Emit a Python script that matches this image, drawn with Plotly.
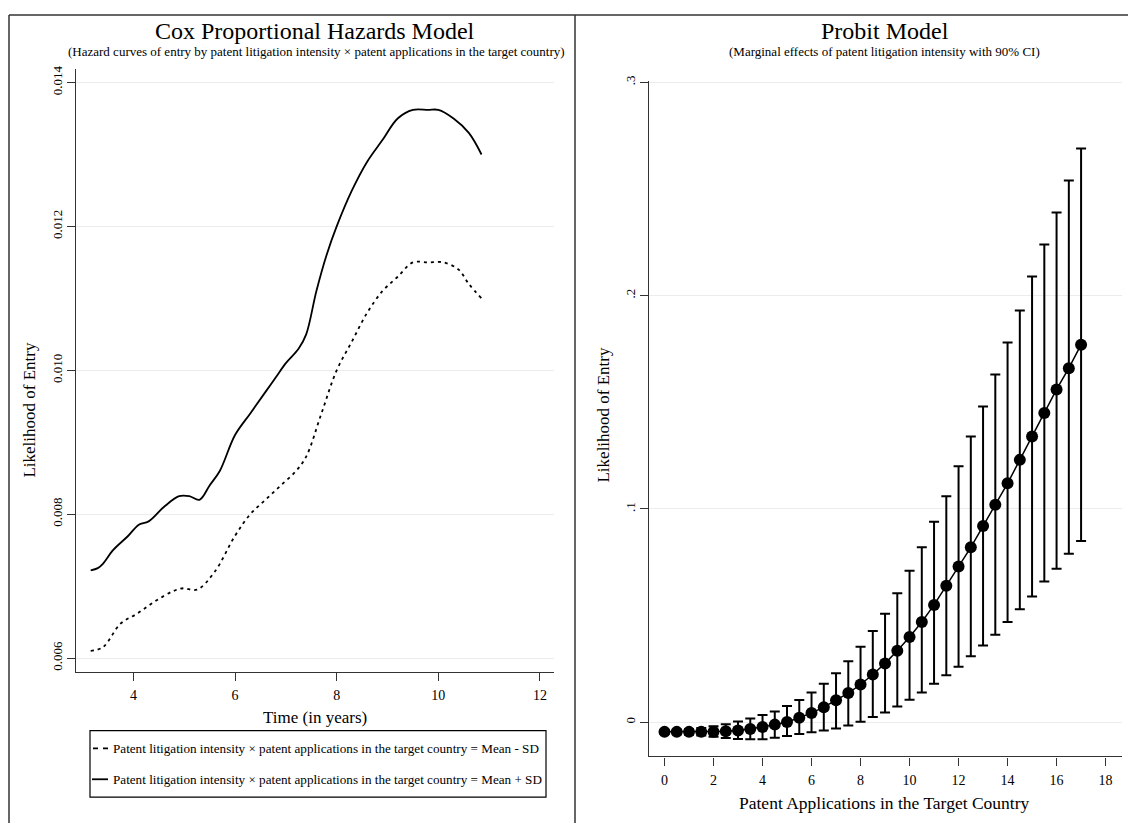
import plotly.graph_objects as go

# ---------------- data ----------------
# Left panel: Cox hazard curves
t_plus = [3.16, 3.3, 3.4, 3.6, 3.9, 4.1, 4.3, 4.6, 4.9, 5.1, 5.3, 5.5, 5.7, 6.0, 6.3, 6.6, 6.8,
          7.0, 7.25, 7.4, 7.6, 7.8, 8.0, 8.3, 8.6, 8.9, 9.2, 9.5, 9.8, 10.0, 10.3, 10.6, 10.85]
h_plus = [0.00722, 0.00725, 0.00731, 0.0075, 0.0077, 0.00785, 0.0079, 0.0081, 0.00825, 0.00825,
          0.0082, 0.0084, 0.0086, 0.0091, 0.0094, 0.0097, 0.0099, 0.0101, 0.0103, 0.0105, 0.0111,
          0.0116, 0.0120, 0.0125, 0.0129, 0.0132, 0.0135, 0.01362, 0.01362, 0.01362, 0.0135,
          0.0133, 0.0130]
t_minus = [3.16, 3.4, 3.75, 4.08, 4.43, 4.78, 4.98, 5.25, 5.6, 6.0, 6.3, 6.6, 6.9, 7.2, 7.4, 7.7,
           8.0, 8.3, 8.6, 8.9, 9.2, 9.5, 9.8, 10.1, 10.4, 10.6, 10.85]
h_minus = [0.0061, 0.00615, 0.00648, 0.00662, 0.00679, 0.00693, 0.00697, 0.00695, 0.0072, 0.0077,
           0.0080, 0.0082, 0.0084, 0.0086, 0.0088, 0.0094, 0.0100, 0.0104, 0.0108, 0.0111, 0.0113,
           0.0115, 0.0115, 0.0115, 0.0114, 0.0112, 0.0110]
legend_names = [
    "Patent litigation intensity \u00d7 patent applications in the target country = Mean - SD",
    "Patent litigation intensity \u00d7 patent applications in the target country = Mean + SD",
]

# Right panel: Probit marginal effects with 90% CI
apps = [0, 0.5, 1, 1.5, 2, 2.5, 3, 3.5, 4, 4.5, 5, 5.5, 6, 6.5, 7, 7.5, 8, 8.5, 9, 9.5, 10,
        10.5, 11, 11.5, 12, 12.5, 13, 13.5, 14, 14.5, 15, 15.5, 16, 16.5, 17]
me = [-0.0045, -0.0045, -0.0045, -0.0045, -0.0044, -0.0042, -0.0038, -0.0031, -0.0022, -0.0011,
      0.0001, 0.0021, 0.0044, 0.0071, 0.0103, 0.0137, 0.0177, 0.0224, 0.0276, 0.0335, 0.040,
      0.047, 0.055, 0.064, 0.073, 0.082, 0.092, 0.102, 0.112, 0.123, 0.134, 0.145, 0.156, 0.166,
      0.177]
ci_lo = [-0.0055, -0.0056, -0.0058, -0.0062, -0.0068, -0.0074, -0.0078, -0.0080, -0.0079,
         -0.0072, -0.0064, -0.0055, -0.0047, -0.0039, -0.0029, -0.0015, 0.0002, 0.0025, 0.0046,
         0.0074, 0.0105, 0.0140, 0.018, 0.022, 0.026, 0.031, 0.036, 0.041, 0.047, 0.053, 0.059,
         0.066, 0.072, 0.079, 0.085]
ci_hi = [-0.0035, -0.0034, -0.0032, -0.0027, -0.0019, -0.0009, 0.0004, 0.0018, 0.0034, 0.0051,
         0.0076, 0.0104, 0.0140, 0.0180, 0.0230, 0.0286, 0.0354, 0.0428, 0.0509, 0.0605, 0.071,
         0.082, 0.094, 0.106, 0.120, 0.134, 0.148, 0.163, 0.178, 0.193, 0.209, 0.224, 0.239,
         0.254, 0.269]

left_yticks = [0.006, 0.008, 0.010, 0.012, 0.014]
left_xticks = [4, 6, 8, 10, 12]
right_yticks = [0, 0.1, 0.2, 0.3]
right_ytext = ["0", ".1", ".2", ".3"]
right_xticks = [0, 2, 4, 6, 8, 10, 12, 14, 16, 18]

# ---------------- layout helpers ----------------
# The page body has an 8px default margin, so the figure is sized to fit the
# 1136x823 window and all page-pixel positions are shifted by that margin.
OFF = 8
W, H = 1136 - OFF, 823 - OFF
FONT = "Liberation Serif"


def px(x):
    return (x - OFF) / W


def py(y):
    return 1 - (y - OFF) / H


fig = go.Figure()

fig.add_trace(go.Scatter(x=t_minus, y=h_minus, mode="lines", name=legend_names[0],
                         line=dict(color="black", width=1.8, dash="3px,4px", shape="spline"),
                         xaxis="x", yaxis="y", showlegend=False))
fig.add_trace(go.Scatter(x=t_plus, y=h_plus, mode="lines", name=legend_names[1],
                         line=dict(color="black", width=1.8, shape="spline"),
                         xaxis="x", yaxis="y", showlegend=False))

err = [h - m for h, m in zip(ci_hi, me)]
errm = [m - l for m, l in zip(me, ci_lo)]
fig.add_trace(go.Scatter(x=apps, y=me, mode="lines+markers",
                         line=dict(color="black", width=1.5),
                         marker=dict(color="black", size=12, symbol="circle"),
                         error_y=dict(type="data", array=err, arrayminus=errm, color="black",
                                      thickness=2, width=5, symmetric=False),
                         xaxis="x2", yaxis="y2", showlegend=False))

axis_common = dict(showline=True, linecolor="#333333", linewidth=1.3, ticks="outside",
                   ticklen=8, tickwidth=1.3, tickcolor="#333333", zeroline=False,
                   tickfont=dict(family=FONT, size=14, color="black"))
yfont = dict(family=FONT, size=13, color="black")

fig.update_layout(
    width=W, height=H,
    margin=dict(l=0, r=0, t=0, b=0),
    paper_bgcolor="white", plot_bgcolor="white",
    font=dict(family=FONT, color="black"),
    xaxis=dict(domain=[px(76), px(554)], range=[2.871, 12.276], tickvals=left_xticks,
               showgrid=False, anchor="y", ticklabelstandoff=2, **axis_common),
    yaxis=dict(domain=[py(671), py(64)], range=[0.005807, 0.014193], tickvals=left_yticks,
               tickformat=".3f", tickangle=-90, showgrid=True, gridcolor="#ececec", gridwidth=1,
               anchor="x", **{**axis_common, "tickfont": yfont}),
    xaxis2=dict(domain=[px(649), px(1122)], range=[-0.633, 18.67], tickvals=right_xticks,
                showgrid=False, anchor="y2", ticklabelstandoff=3, **axis_common),
    yaxis2=dict(domain=[py(756), py(76)], range=[-0.016, 0.30079], tickvals=right_yticks,
                ticktext=right_ytext, tickangle=-90, showgrid=True, gridcolor="#ececec",
                gridwidth=1, anchor="x2", **{**axis_common, "tickfont": yfont}),
)

ann = []
# titles
ann.append(dict(x=px(315), y=py(26), text="Cox Proportional Hazards Model",
                font=dict(family=FONT, size=24, color="black")))
ann.append(dict(x=px(316), y=py(47),
                text="(Hazard curves of entry by patent litigation intensity \u00d7 patent applications in the target country)",
                font=dict(family=FONT, size=13, color="black")))
ann.append(dict(x=px(885), y=py(26), text="Probit Model",
                font=dict(family=FONT, size=24, color="black")))
ann.append(dict(x=px(884), y=py(47),
                text="(Marginal effects of patent litigation intensity with 90% CI)",
                font=dict(family=FONT, size=13, color="black")))
# axis titles
ann.append(dict(x=px(315), y=py(717), text="Time (in years)",
                font=dict(family=FONT, size=17, color="black")))
ann.append(dict(x=px(30), y=py(407), text="Likelihood of Entry", textangle=-90,
                font=dict(family=FONT, size=17, color="black")))
ann.append(dict(x=px(604), y=py(412), text="Likelihood of Entry", textangle=-90,
                font=dict(family=FONT, size=17, color="black")))
ann.append(dict(x=px(884), y=py(803), text="Patent Applications in the Target Country",
                font=dict(family=FONT, size=17.5, color="black")))
# manual legend text
ann.append(dict(x=px(111), y=py(748), text=legend_names[0], xanchor="left",
                font=dict(family=FONT, size=13.15, color="black")))
ann.append(dict(x=px(111), y=py(779), text=legend_names[1], xanchor="left",
                font=dict(family=FONT, size=13.15, color="black")))

for a in ann:
    a.setdefault("xanchor", "center")
    a.update(xref="paper", yref="paper", yanchor="middle", showarrow=False)
fig.update_layout(annotations=ann)

shapes = []
frame = dict(color="#333333", width=1.5)
shapes.append(dict(type="line", x0=px(9), x1=1, y0=py(10), y1=py(10), line=frame))
shapes.append(dict(type="line", x0=px(9), x1=px(9), y0=py(10), y1=0, line=frame))
shapes.append(dict(type="line", x0=px(575), x1=px(575), y0=py(10), y1=0, line=frame))
# legend box and keys
shapes.append(dict(type="rect", x0=px(90), x1=px(546), y0=py(797), y1=py(730),
                   line=dict(color="black", width=1.2)))
shapes.append(dict(type="line", x0=px(93), x1=px(108), y0=py(748), y1=py(748),
                   line=dict(color="black", width=1.8, dash="5px,5px")))
shapes.append(dict(type="line", x0=px(92), x1=px(108), y0=py(779), y1=py(779),
                   line=dict(color="black", width=1.8)))
for s in shapes:
    s.update(xref="paper", yref="paper")
fig.update_layout(shapes=shapes)

fig.write_html("out.html")
